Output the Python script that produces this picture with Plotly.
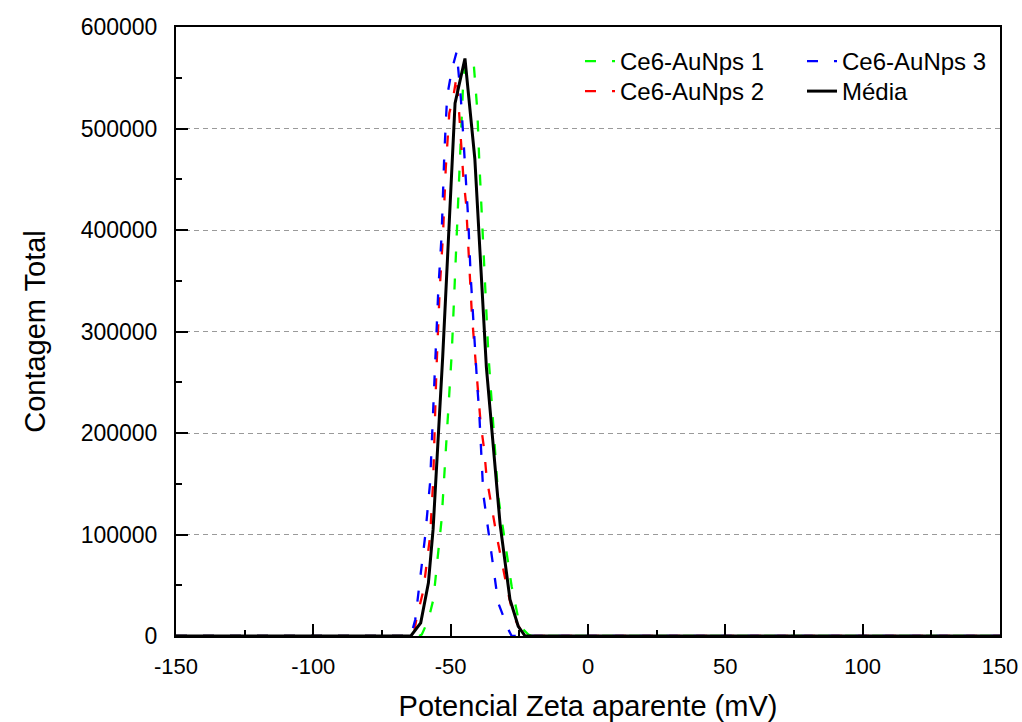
import plotly.graph_objects as go

# Zeta potential distributions (mV vs total counts)
x_amostra1 = [-150, -61.5, -60.5, -58.1, -56.3, -53.3, -49.6, -46.6, -45.4, -44.4,
              -41.7, -40.3, -39.6, -36.3, -32.7, -27.8, -24.8, -21.7, -20.5, 150]
y_amostra1 = [0, 0, 1500, 16000, 36000, 114700, 279000, 469000, 548000, 567000,
              567000, 518000, 469000, 279000, 137600, 49000, 9600, 1500, 0, 0]

x_amostra2 = [-150, -63.5, -62.4, -60.0, -57.5, -56.4, -55.2, -54.0, -52.8, -51.8,
              -50.5, -49.0, -47.8, -46.9, -45.4, -44.4, -43.4, -42.3, -41.5, -40.8,
              -39.9, -39.1, -37.8, -36.9, -33.2, -31.4, -29.6, -27.2, -23.6, -22.5, 150]
y_amostra2 = [0, 0, 18000, 44000, 98000, 151000, 260700, 341000, 395000, 460000,
              515000, 532000, 552000, 511600, 452600, 426000, 370600, 318000, 290000, 265600,
              237700, 209900, 183600, 155700, 98000, 72000, 49000, 19500, 1500, 0, 0]

x_amostra3 = [-150, -64.5, -62.9, -60.5, -59.3, -57.5, -55.7, -54.5, -53.3, -52.3,
              -51.3, -49.6, -47.8, -46.3, -45.4, -44.7, -43.6, -42.7, -41.1, -40.3,
              -39.6, -39.1, -38.6, -38.1, -36.0, -32.7, -29.0, -27.8, 150]
y_amostra3 = [0, 0, 16000, 72000, 98000, 151000, 260700, 341000, 395000, 475700,
              531400, 557700, 575700, 530000, 492000, 464000, 410000, 354000, 275000, 246000,
              220000, 191800, 167000, 139300, 98000, 32700, 6400, 0, 0]

x_media = [-150, -64.5, -60.9, -58.1, -56.4, -52.9, -48.4, -44.8, -41.2, -37.0,
           -32.0, -28.4, -25.4, -22.9, 150]
y_media = [0, 0, 13000, 52400, 105000, 275000, 525000, 569000, 470000, 265000,
           110000, 36000, 9600, 0, 0]

x_ticks = [-150, -100, -50, 0, 50, 100, 150]
y_ticks = [0, 100000, 200000, 300000, 400000, 500000, 600000]

FONT = "Arial, Liberation Sans, sans-serif"
DASH = "11px,16px"

fig = go.Figure()
fig.add_trace(go.Scatter(x=x_amostra1, y=y_amostra1, mode="lines", name="Ce6-AuNps 1",
                         line=dict(color="#00ff00", width=2.3, dash=DASH), legend="legend"))
fig.add_trace(go.Scatter(x=x_amostra2, y=y_amostra2, mode="lines", name="Ce6-AuNps 2",
                         line=dict(color="#ff0000", width=2.3, dash=DASH), legend="legend2"))
fig.add_trace(go.Scatter(x=x_amostra3, y=y_amostra3, mode="lines", name="Ce6-AuNps 3",
                         line=dict(color="#0000ff", width=2.3, dash=DASH), legend="legend3"))
fig.add_trace(go.Scatter(x=x_media, y=y_media, mode="lines", name="Média",
                         line=dict(color="#000000", width=3), legend="legend4"))

legend_style = dict(font=dict(family=FONT, size=24, color="#000"), bgcolor="rgba(0,0,0,0)",
                    borderwidth=0, tracegroupgap=0, yanchor="top", xanchor="left",
                    itemwidth=30)


def px_x(px):
    return (px - 176) / 824


def px_y(px):
    return (636 - px) / 609


fig.update_layout(
    width=1022, height=722,
    margin=dict(l=176, r=22, t=27, b=86),
    paper_bgcolor="white", plot_bgcolor="white",
    font=dict(family=FONT, color="#000"),
    showlegend=True,
    legend=dict(x=px_x(580), y=px_y(39), **legend_style),
    legend2=dict(x=px_x(580), y=px_y(69), **legend_style),
    legend3=dict(x=px_x(802), y=px_y(39), **legend_style),
    legend4=dict(x=px_x(802), y=px_y(69), **legend_style),
    xaxis=dict(
        range=[-150, 150], tickvals=x_ticks, ticktext=[str(v) for v in x_ticks],
        ticks="inside", ticklen=12, tickwidth=2, tickcolor="#000",
        minor=dict(dtick=25, ticks="inside", ticklen=6, tickwidth=2, tickcolor="#000"),
        showline=True, linewidth=2, linecolor="#000", mirror=True,
        showgrid=False, zeroline=False, automargin=False, ticklabeloverflow="allow",
        tickfont=dict(family=FONT, size=22, color="#000"), ticklabelstandoff=10,
        title=dict(text="Potencial Zeta aparente (mV)", font=dict(family=FONT, size=29, color="#000"),
                   standoff=27),
    ),
    yaxis=dict(
        range=[0, 600000], tickvals=y_ticks, ticktext=[str(v) for v in y_ticks],
        ticks="inside", ticklen=12, tickwidth=2, tickcolor="#000",
        minor=dict(dtick=50000, ticks="inside", ticklen=6, tickwidth=2, tickcolor="#000",
                   showgrid=False),
        showline=True, linewidth=2, linecolor="#000", mirror=True,
        showgrid=True, gridcolor="#9a9a9a", gridwidth=1, griddash="5px,4px",
        zeroline=False, automargin=False, ticklabeloverflow="allow",
        tickfont=dict(family=FONT, size=23, color="#000"), ticklabelstandoff=12,
        title=dict(text="Contagem Total", font=dict(family=FONT, size=29, color="#000"),
                   standoff=27),
    ),
)

fig.write_html("out.html")
